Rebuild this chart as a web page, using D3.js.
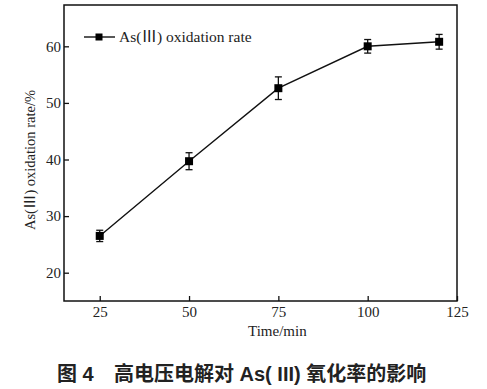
<!DOCTYPE html>
<html>
<head>
<meta charset="utf-8">
<script src="https://cdn.jsdelivr.net/npm/d3@7"></script>
<style>
  body { margin: 0; background: #fff; }
  svg text { font-family: "Liberation Serif", "Times New Roman", serif; fill: #222; }
  .roman { font-family: "Noto Sans CJK SC", sans-serif; }
  .caption { font-family: "Liberation Sans", "Noto Sans CJK SC", sans-serif; font-weight: bold; }
</style>
</head>
<body>
<svg id="chart" width="487" height="389"></svg>
<script>
// chart data
const times  = [25, 50, 75, 100, 120]
const rates  = [26.5, 39.7, 52.6, 60.0, 60.8]
const errors = [1.0, 1.5, 2.0, 1.2, 1.3]
const xTicks = [25, 50, 75, 100, 125]
const yTicks = [20, 30, 40, 50, 60]

const svg = d3.select('#chart')
const box = {left: 64, top: 5, right: 457, bottom: 301}

const x = d3.scaleLinear().domain([15, 125]).range([box.left, box.right])
const y = d3.scaleLinear().domain([15, 67.3]).range([box.bottom, box.top])

// frame
svg.append('rect')
    .attr('x', box.left).attr('y', box.top)
    .attr('width', box.right - box.left).attr('height', box.bottom - box.top)
    .attr('fill', 'none').attr('stroke', '#111').attr('stroke-width', 1.5)

// axes, ticks pointing inward
const xAxis = svg.append('g')
    .attr('transform', `translate(0,${box.bottom})`)
    .call(d3.axisBottom(x).tickValues(xTicks).tickSizeInner(-5).tickSizeOuter(0).tickPadding(5))
const yAxis = svg.append('g')
    .attr('transform', `translate(${box.left},0)`)
    .call(d3.axisLeft(y).tickValues(yTicks).tickSizeInner(-5).tickSizeOuter(0).tickPadding(3))

;[xAxis, yAxis].forEach(g => {
    g.select('.domain').remove()
    g.selectAll('line').attr('stroke', '#111').attr('stroke-width', 1.3)
    g.selectAll('text').style('font-size', '15px').attr('fill', '#222')
})

// text with a full-width roman numeral three
function asLabel(sel, tail) {
    sel.append('tspan').text('As(')
    sel.append('tspan').attr('class', 'roman').text('Ⅲ')
    sel.append('tspan').text(') ' + tail)
}

// axis titles
svg.append('text')
    .attr('x', x(75) - 1).attr('y', 336)
    .attr('text-anchor', 'middle').style('font-size', '15px')
    .text('Time/min')

svg.append('text')
    .attr('transform', `translate(35,${(box.top + box.bottom) / 2 + 7}) rotate(-90)`)
    .attr('text-anchor', 'middle').style('font-size', '14.5px')
    .call(asLabel, 'oxidation rate/%')

// line
const points = times.map((t, i) => ({t, r: rates[i], e: errors[i]}))

svg.append('path')
    .datum(points)
    .attr('fill', 'none').attr('stroke', '#111').attr('stroke-width', 1.4)
    .attr('d', d3.line().x(d => x(d.t)).y(d => y(d.r)))

// error bars
const bars = svg.append('g').attr('stroke', '#111').attr('stroke-width', 1.3)
points.forEach(d => {
    bars.append('line')
        .attr('x1', x(d.t)).attr('x2', x(d.t))
        .attr('y1', y(d.r - d.e)).attr('y2', y(d.r + d.e))
    ;[d.r - d.e, d.r + d.e].forEach(v => {
        bars.append('line')
            .attr('x1', x(d.t) - 3.5).attr('x2', x(d.t) + 3.5)
            .attr('y1', y(v)).attr('y2', y(v))
    })
})

// markers
svg.append('g').selectAll('rect')
    .data(points)
    .join('rect')
    .attr('x', d => x(d.t) - 4).attr('y', d => y(d.r) - 4)
    .attr('width', 8).attr('height', 8)
    .attr('fill', '#000')

// legend
const legend = svg.append('g').attr('transform', 'translate(84,37)')
legend.append('line').attr('x1', 0).attr('x2', 31).attr('stroke', '#111').attr('stroke-width', 1.4)
legend.append('rect').attr('x', 11.5).attr('y', -3.5).attr('width', 7).attr('height', 7).attr('fill', '#000')
legend.append('text').attr('x', 35).attr('y', 5).style('font-size', '15.5px')
    .call(asLabel, 'oxidation rate')

// caption
const caption = svg.append('text')
    .attr('class', 'caption')
    .attr('y', 381)
    .style('font-size', '20px')
    .attr('fill', '#111')
caption.append('tspan').attr('x', 57).text('图 4')
caption.append('tspan').attr('x', 114).text('高电压电解对 As( III) 氧化率的影响')
</script>
</body>
</html>
